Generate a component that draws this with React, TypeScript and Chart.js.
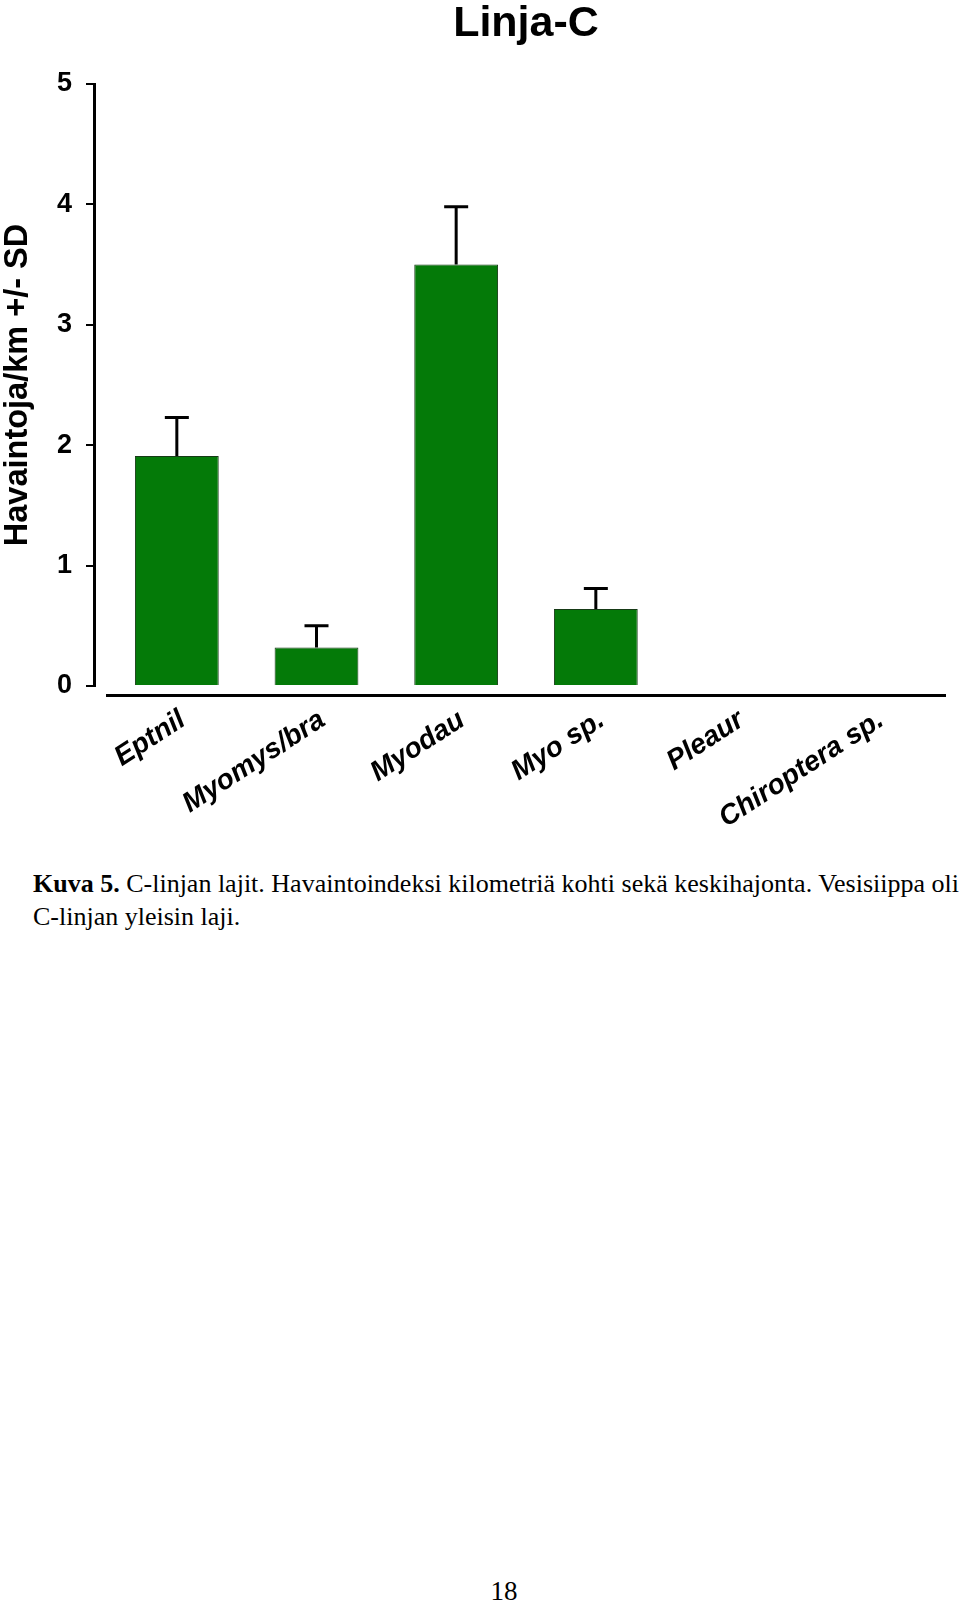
import React, { useEffect, useRef } from "react";
import { Chart, registerables } from "chart.js";

Chart.register(...registerables);

const chartTitle = "Linja-C";
const yAxisTitle = "Havaintoja/km +/- SD";
const categories = ["Eptnil", "Myomys/bra", "Myodau", "Myo sp.", "Pleaur", "Chiroptera sp."];
const means = [1.91, 0.32, 3.5, 0.64, 0, 0];
const sds = [0.32, 0.18, 0.48, 0.17, 0, 0];
const yTicks = [0, 1, 2, 3, 4, 5];
const captionBold = "Kuva 5.";
const captionLine1 = " C-linjan lajit. Havaintoindeksi kilometriä kohti sekä keskihajonta. Vesisiippa oli";
const captionLine2 = "C-linjan yleisin laji.";
const pageNumber = "18";

const SANS = '"Liberation Sans", Arial, Helvetica, sans-serif';
const SERIF = '"Liberation Serif", "Times New Roman", Times, serif';

const errorBarPlugin = {
  id: "errorBars",
  afterDatasetsDraw(chart: any) {
    const meta = chart.getDatasetMeta(0);
    const yScale = chart.scales.y;
    const ctx = chart.ctx;
    ctx.save();
    ctx.strokeStyle = "#000";
    ctx.lineWidth = 3;
    ctx.lineCap = "butt";
    meta.data.forEach((bar: any, i: number) => {
      const sd = sds[i];
      if (!sd) return;
      const x = bar.x;
      const y0 = yScale.getPixelForValue(means[i]);
      const y1 = yScale.getPixelForValue(means[i] + sd);
      ctx.beginPath();
      ctx.moveTo(x, y0);
      ctx.lineTo(x, y1);
      ctx.moveTo(x - 12, y1);
      ctx.lineTo(x + 12, y1);
      ctx.stroke();
    });
    ctx.restore();
  },
};

function BarChart() {
  const ref = useRef<HTMLCanvasElement | null>(null);
  useEffect(() => {
    if (!ref.current) return;
    const chart = new Chart(ref.current, {
      type: "bar",
      data: {
        labels: categories,
        datasets: [
          {
            data: means,
            backgroundColor: "#047a08",
            borderColor: "#163a16",
            borderWidth: 1,
            barPercentage: 0.6,
            categoryPercentage: 1,
            xAxisID: "x",
            yAxisID: "y",
          },
        ],
      },
      options: {
        responsive: false,
        animation: false,
        layout: { padding: { left: 0, right: 15, top: 0, bottom: 0 } },
        plugins: {
          legend: { display: false },
          tooltip: { enabled: false },
          title: {
            display: true,
            fullSize: false,
            text: chartTitle,
            color: "#000",
            font: { family: SANS, size: 43, weight: "bold", lineHeight: 1 },
            padding: { top: 3, bottom: 38 },
          },
        },
        scales: {
          x: {
            type: "category",
            position: "bottom",
            weight: 10,
            offset: true,
            grid: { display: false },
            border: { display: true, color: "#000", width: 3 },
            ticks: {
              autoSkip: false,
              minRotation: 33,
              maxRotation: 33,
              color: "#000",
              padding: -3,
              labelOffset: 6,
              font: { family: SANS, size: 28, weight: "bold", style: "italic", lineHeight: 1.5 },
            },
            afterFit: (s: any) => {
              s.height = 155;
            },
          },
          xpad: {
            type: "linear",
            position: "bottom",
            weight: 0,
            display: true,
            grid: { display: false },
            border: { display: false },
            ticks: { display: false },
            afterFit: (s: any) => {
              s.height = 9;
            },
          },
          y: {
            type: "linear",
            position: "left",
            weight: 10,
            min: 0,
            max: 5,
            afterBuildTicks: (s: any) => {
              s.ticks = yTicks.map((v) => ({ value: v }));
            },
            ticks: {
              color: "#000",
              padding: 14,
              font: { family: SANS, size: 27, weight: "bold" },
            },
            grid: {
              display: true,
              drawOnChartArea: false,
              drawTicks: true,
              tickLength: 8,
              lineWidth: 2,
              color: "#000",
            },
            border: { display: true, color: "#000", width: 3 },
            title: {
              display: true,
              text: yAxisTitle,
              color: "#000",
              font: { family: SANS, size: 32.5, weight: "bold", lineHeight: 1.1 },
              padding: 0,
            },
            afterFit: (s: any) => {
              s.width = 94;
            },
          },
          ypad: {
            type: "linear",
            position: "left",
            weight: 0,
            display: true,
            grid: { display: false },
            border: { display: false },
            ticks: { display: false },
            afterFit: (s: any) => {
              s.width = 13;
            },
          },
        },
      },
      plugins: [errorBarPlugin],
    } as any);
    return () => chart.destroy();
  }, []);
  return (
    <canvas
      ref={ref}
      width={960}
      height={850}
      style={{ position: "absolute", left: 0, top: 0, width: 960, height: 850 }}
    />
  );
}

export default function App() {
  const captionStyle: React.CSSProperties = {
    position: "absolute",
    left: 33,
    fontFamily: SERIF,
    fontSize: 26,
    lineHeight: "33px",
    color: "#000",
    whiteSpace: "nowrap",
  };
  return (
    <div
      style={{
        position: "absolute",
        left: 0,
        top: 0,
        width: 960,
        height: 1603,
        background: "#fff",
        overflow: "hidden",
      }}
    >
      <BarChart />
      <div style={{ ...captionStyle, top: 867 }}>
        <b>{captionBold}</b>
        {captionLine1}
      </div>
      <div style={{ ...captionStyle, top: 900 }}>{captionLine2}</div>
      <div
        style={{
          position: "absolute",
          left: 504,
          top: 1576,
          transform: "translateX(-50%)",
          fontFamily: SERIF,
          fontSize: 27,
          lineHeight: "30px",
          color: "#000",
        }}
      >
        {pageNumber}
      </div>
    </div>
  );
}
